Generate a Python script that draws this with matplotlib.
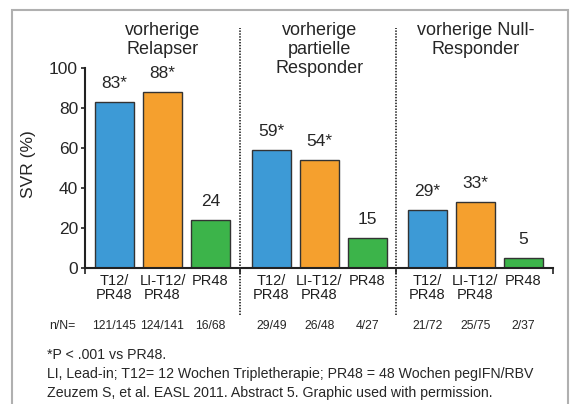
import matplotlib
matplotlib.use("Agg")
import matplotlib.pyplot as plt
from matplotlib.patches import Rectangle
import matplotlib.transforms as mtransforms

plt.rcParams['font.family'] = ['Liberation Sans', 'DejaVu Sans']

group_titles = ["vorherige\nRelapser", "vorherige\npartielle\nResponder", "vorherige Null-\nResponder"]
bar_labels = ["T12/\nPR48", "LI-T12/\nPR48", "PR48"]
values = [[83, 88, 24], [59, 54, 15], [29, 33, 5]]
value_texts = [["83*", "88*", "24"], ["59*", "54*", "15"], ["29*", "33*", "5"]]
nN = [["121/145", "124/141", "16/68"], ["29/49", "26/48", "4/27"], ["21/72", "25/75", "2/37"]]
colors = ["#3d9ad6", "#f5a02e", "#3cb44a"]
yticks = [0, 20, 40, 60, 80, 100]
footnotes = ["*P < .001 vs PR48.",
             "LI, Lead-in; T12= 12 Wochen Tripletherapie; PR48 = 48 Wochen pegIFN/RBV",
             "Zeuzem S, et al. EASL 2011. Abstract 5. Graphic used with permission."]

W, H = 571, 404
fig = plt.figure(figsize=(W / 100, H / 100), dpi=100)
fig.patch.set_facecolor("white")

# border
fig.add_artist(Rectangle((12 / W, -0.05), (568 - 12) / W, 1.05 - 10 / H, transform=fig.transFigure,
                         fill=False, edgecolor="#b0b0b0", lw=1.5))

ax = fig.add_axes([85 / W, 1 - 268 / H, (553 - 85) / W, 200 / H])
ax.set_facecolor("none")
txtc = "#262626"

group_offsets = [0.0, 3.27, 6.52]
xmin, xmax = -0.615, 9.135
width = 0.81
bt = mtransforms.blended_transform_factory(ax.transData, ax.transAxes)

tick_pos, tick_lab = [], []
for g in range(3):
    for i in range(3):
        x = group_offsets[g] + i
        v = values[g][i]
        ax.bar(x, v, width=width, color=colors[i], edgecolor="#333333", linewidth=1.0, zorder=2)
        ax.annotate(value_texts[g][i], (x, v), xytext=(0, 13), textcoords="offset points",
                    ha="center", va="center", fontsize=12.5, color=txtc, annotation_clip=False)
        tick_pos.append(x)
        tick_lab.append(bar_labels[i])
        ax.text(x, -0.29, nN[g][i], transform=bt,
                ha="center", va="center", fontsize=8.8, color=txtc)
    ax.text(group_offsets[g] + 1, 1.23, group_titles[g], transform=bt,
            ha="center", va="top", fontsize=13, color=txtc, linespacing=1.14)

ax.text(-0.82, -0.29, "n/N=", transform=bt,
        ha="right", va="center", fontsize=8.8, color=txtc)

dividers = [2.615, 5.86]
for d in dividers:
    ax.plot([d, d], [-0.235, 1.2], transform=bt, color="#333333", lw=1.3, ls=(0, (0.8, 0.8)),
            clip_on=False, zorder=1)

ax.set_xlim(xmin, xmax)
ax.set_ylim(0, 100)
ax.set_yticks(yticks)
ax.set_yticklabels([str(t) for t in yticks], fontsize=12.5, color=txtc)
ax.set_xticks(tick_pos)
ax.set_xticklabels(tick_lab, fontsize=10.5, color="#1e1e1e", linespacing=1.0)
ax.tick_params(axis="x", length=0, pad=4)
ax.set_xticks([xmin, 2.615, 5.86, xmax], minor=True)
ax.tick_params(axis="x", which="minor", length=4, width=1.2, color="#222222", direction="out")
ax.tick_params(axis="y", length=3, width=1.2, color="#222222", pad=2)
for s in ["top", "right"]:
    ax.spines[s].set_visible(False)
for s in ["left", "bottom"]:
    ax.spines[s].set_color("#222222")
    ax.spines[s].set_linewidth(1.5)

ax.set_ylabel("SVR (%)", fontsize=12.5, color=txtc)
ax.yaxis.set_label_coords(-0.105, 0.52)

fy = [355, 374, 393]
for t, y in zip(footnotes, fy):
    fig.text(47 / W, 1 - y / H, t, ha="left", va="center", fontsize=10.2, color=txtc)

fig.savefig("out.png", dpi=100)
